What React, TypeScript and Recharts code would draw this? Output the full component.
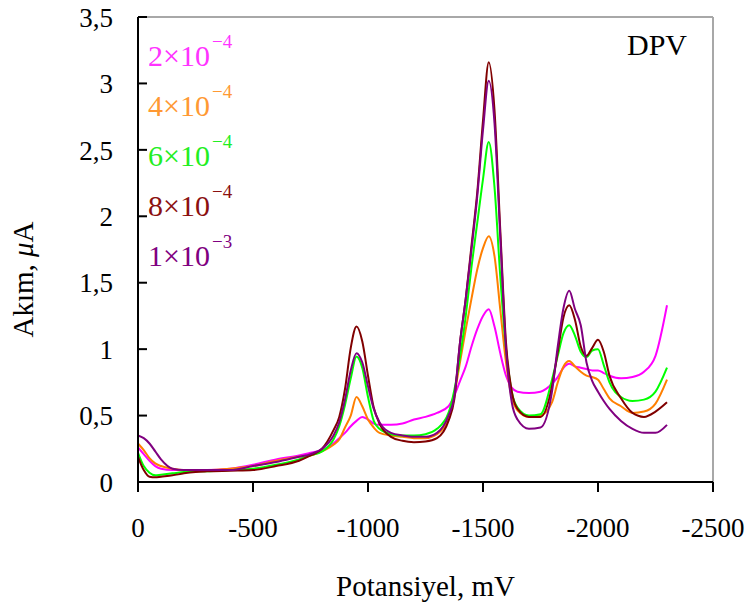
import React from 'react';
import { LineChart, Line, XAxis, YAxis, ReferenceLine } from 'recharts';

const FONT = '"Liberation Serif", "Times New Roman", serif';

// Potansiyel (mV)
const potential = [
  0, -25, -50, -75, -100, -150, -200, -250, -300, -400,
  -500, -600, -700, -750, -800, -850, -875, -900, -925, -950,
  -975, -1000, -1025, -1050, -1100, -1150, -1200, -1250, -1300, -1350,
  -1375, -1400, -1425, -1450, -1475, -1500, -1525, -1550, -1575, -1600,
  -1625, -1650, -1700, -1750, -1800, -1825, -1850, -1875, -1900, -1925,
  -1950, -1975, -2000, -2025, -2050, -2100, -2150, -2200, -2250, -2300,
];

// Akım (µA), her derişim için
const conc2e4 = [
  0.26, 0.21, 0.16, 0.12, 0.1, 0.09, 0.09, 0.09, 0.09, 0.1,
  0.13, 0.17, 0.2, 0.22, 0.24, 0.29, 0.33, 0.37, 0.42, 0.46,
  0.49, 0.47, 0.44, 0.43, 0.43, 0.44, 0.47, 0.49, 0.52, 0.57,
  0.65, 0.76, 0.87, 1.02, 1.15, 1.25, 1.3, 1.17, 0.97, 0.8,
  0.71, 0.68, 0.67, 0.68, 0.74, 0.79, 0.86, 0.89, 0.87, 0.86,
  0.85, 0.84, 0.84, 0.82, 0.8, 0.78, 0.79, 0.83, 0.95, 1.33,
];
const conc4e4 = [
  0.29, 0.24, 0.18, 0.14, 0.12, 0.1, 0.09, 0.09, 0.09, 0.1,
  0.12, 0.16, 0.19, 0.2, 0.23, 0.28, 0.32, 0.41, 0.5, 0.64,
  0.57, 0.47, 0.41, 0.37, 0.35, 0.34, 0.33, 0.33, 0.36, 0.48,
  0.66, 0.9, 1.15, 1.38, 1.6, 1.76, 1.85, 1.7, 1.3, 0.9,
  0.64, 0.54, 0.49, 0.5, 0.6, 0.75, 0.87, 0.91, 0.87, 0.83,
  0.8, 0.79, 0.77, 0.7, 0.63, 0.57, 0.52, 0.53, 0.59, 0.77,
];
const conc6e4 = [
  0.22, 0.12, 0.07, 0.05, 0.055, 0.065, 0.075, 0.08, 0.08, 0.09,
  0.1, 0.13, 0.17, 0.2, 0.23, 0.32, 0.42, 0.58, 0.78, 0.945,
  0.86, 0.64, 0.46, 0.4, 0.36, 0.35, 0.35, 0.36, 0.4, 0.52,
  0.69, 0.94, 1.25, 1.62, 1.95, 2.28, 2.56, 2.22, 1.55, 1.0,
  0.68, 0.56, 0.5, 0.51, 0.77, 0.95, 1.12, 1.18, 1.1, 0.98,
  0.94, 0.99, 1.0, 0.88, 0.75, 0.64, 0.61, 0.62, 0.68, 0.86,
];
const conc8e4 = [
  0.19, 0.09, 0.04, 0.035, 0.04, 0.05, 0.065, 0.075, 0.08, 0.085,
  0.09, 0.12, 0.16, 0.2, 0.25, 0.39, 0.49, 0.7, 1.01, 1.17,
  1.06, 0.8, 0.56, 0.44, 0.34, 0.31, 0.3, 0.305, 0.33, 0.46,
  0.62, 1.05, 1.38, 1.78, 2.18, 2.72, 3.16, 2.8, 1.9, 1.05,
  0.68, 0.55, 0.49, 0.49, 0.72, 0.98, 1.24, 1.33, 1.22, 1.02,
  0.95, 1.01, 1.07, 0.98, 0.8, 0.63, 0.52, 0.49, 0.53, 0.6,
];
const conc1e3 = [
  0.35, 0.33, 0.29, 0.23, 0.17, 0.1, 0.09, 0.09, 0.09, 0.09,
  0.12, 0.15, 0.19, 0.21, 0.25, 0.35, 0.45, 0.62, 0.84, 0.97,
  0.9, 0.72, 0.55, 0.45, 0.37, 0.35, 0.34, 0.34, 0.37, 0.5,
  0.64, 1.05, 1.38, 1.75, 2.15, 2.65, 3.02, 2.7, 1.85, 1.0,
  0.6, 0.47, 0.4, 0.41, 0.68, 1.02, 1.31, 1.44, 1.3, 1.18,
  0.9, 0.76, 0.68, 0.61, 0.55, 0.46, 0.4, 0.37, 0.37, 0.43,
];

const seriesValues = [conc2e4, conc4e4, conc6e4, conc8e4, conc1e3];
const seriesNames = ['2×10', '4×10', '6×10', '8×10', '1×10'];
const seriesExponents = ['−4', '−4', '−4', '−4', '−3'];
const lineColors = ['#ff00ff', '#ff7f00', '#00ff00', '#800000', '#800080'];
const textColors = ['#ff33ff', '#ff9933', '#22ee22', '#8b1010', '#800080'];

const xTicks = [0, -500, -1000, -1500, -2000, -2500];
const yTicks = [0, 0.5, 1, 1.5, 2, 2.5, 3, 3.5];

const data = potential.map((p, i) => {
  const row: Record<string, number> = { potential: p };
  seriesValues.forEach((s, k) => {
    row['s' + k] = s[i];
  });
  return row;
});

const YTick = (props: any) => {
  const { x, y, payload } = props;
  return (
    <g>
      <line x1={x + 25} x2={x + 34} y1={y} y2={y} stroke="#000" strokeWidth={2} />
      <text x={x} y={y} dy="0.36em" textAnchor="end" fill="#000" fontSize={27} fontFamily={FONT}>
        {String(payload.value).replace('.', ',')}
      </text>
    </g>
  );
};

const YTitle = (props: any) => {
  const vb = props.viewBox || { x: 0, y: 17, width: 138, height: 465 };
  const cx = vb.x + 33;
  const cy = vb.y + vb.height / 2 + 30;
  return (
    <text x={cx} y={cy} transform={`rotate(-90 ${cx} ${cy})`} textAnchor="middle" fill="#000" fontSize={29} fontFamily={FONT}>
      Akım, <tspan fontStyle="italic">μ</tspan>A
    </text>
  );
};

export default function App() {
  return (
    <div style={{ position: 'absolute', left: 0, top: 0, width: 749, height: 612, background: '#fff' }}>
      <LineChart width={749} height={612} data={data} margin={{ top: 17, right: 36, bottom: 0, left: 0 }}>
        <XAxis
          dataKey="potential"
          type="number"
          domain={[-2500, 0]}
          reversed
          ticks={xTicks}
          interval={0}
          height={130}
          tickSize={10}
          tickMargin={26}
          axisLine={{ stroke: '#000', strokeWidth: 2 }}
          tickLine={{ stroke: '#000', strokeWidth: 2 }}
          tick={{ fill: '#000', fontSize: 27, fontFamily: FONT }}
          label={{ value: 'Potansiyel, mV', position: 'insideBottom', offset: 16, fill: '#000', fontSize: 29, fontFamily: FONT }}
        />
        <YAxis
          type="number"
          domain={[0, 3.5]}
          ticks={yTicks}
          interval={0}
          width={138}
          tickSize={0}
          tickMargin={25}
          axisLine={{ stroke: '#000', strokeWidth: 2 }}
          tickLine={false}
          tick={<YTick />}
          label={<YTitle />}
        />
        <ReferenceLine y={3.5} stroke="#a8a8a8" strokeWidth={2} />
        <ReferenceLine x={-2500} stroke="#a8a8a8" strokeWidth={2} />
        {seriesValues.map((_, k) => (
          <Line
            key={k}
            dataKey={'s' + k}
            name={seriesNames[k]}
            type="monotone"
            stroke={lineColors[k]}
            strokeWidth={2}
            dot={false}
            isAnimationActive={false}
          />
        ))}
      </LineChart>
      <svg width={749} height={612} style={{ position: 'absolute', left: 0, top: 0, pointerEvents: 'none' }}>
        {seriesNames.map((n, k) => (
          <text key={k} x={148} y={66 + k * 50} fill={textColors[k]} fontSize={30} fontFamily={FONT}>
            {n}
            <tspan dx={2} dy={-18} fontSize={19}>
              {seriesExponents[k]}
            </tspan>
          </text>
        ))}
        <text x={627} y={55} fill="#000" fontSize={30} fontFamily={FONT}>
          DPV
        </text>
      </svg>
    </div>
  );
}
